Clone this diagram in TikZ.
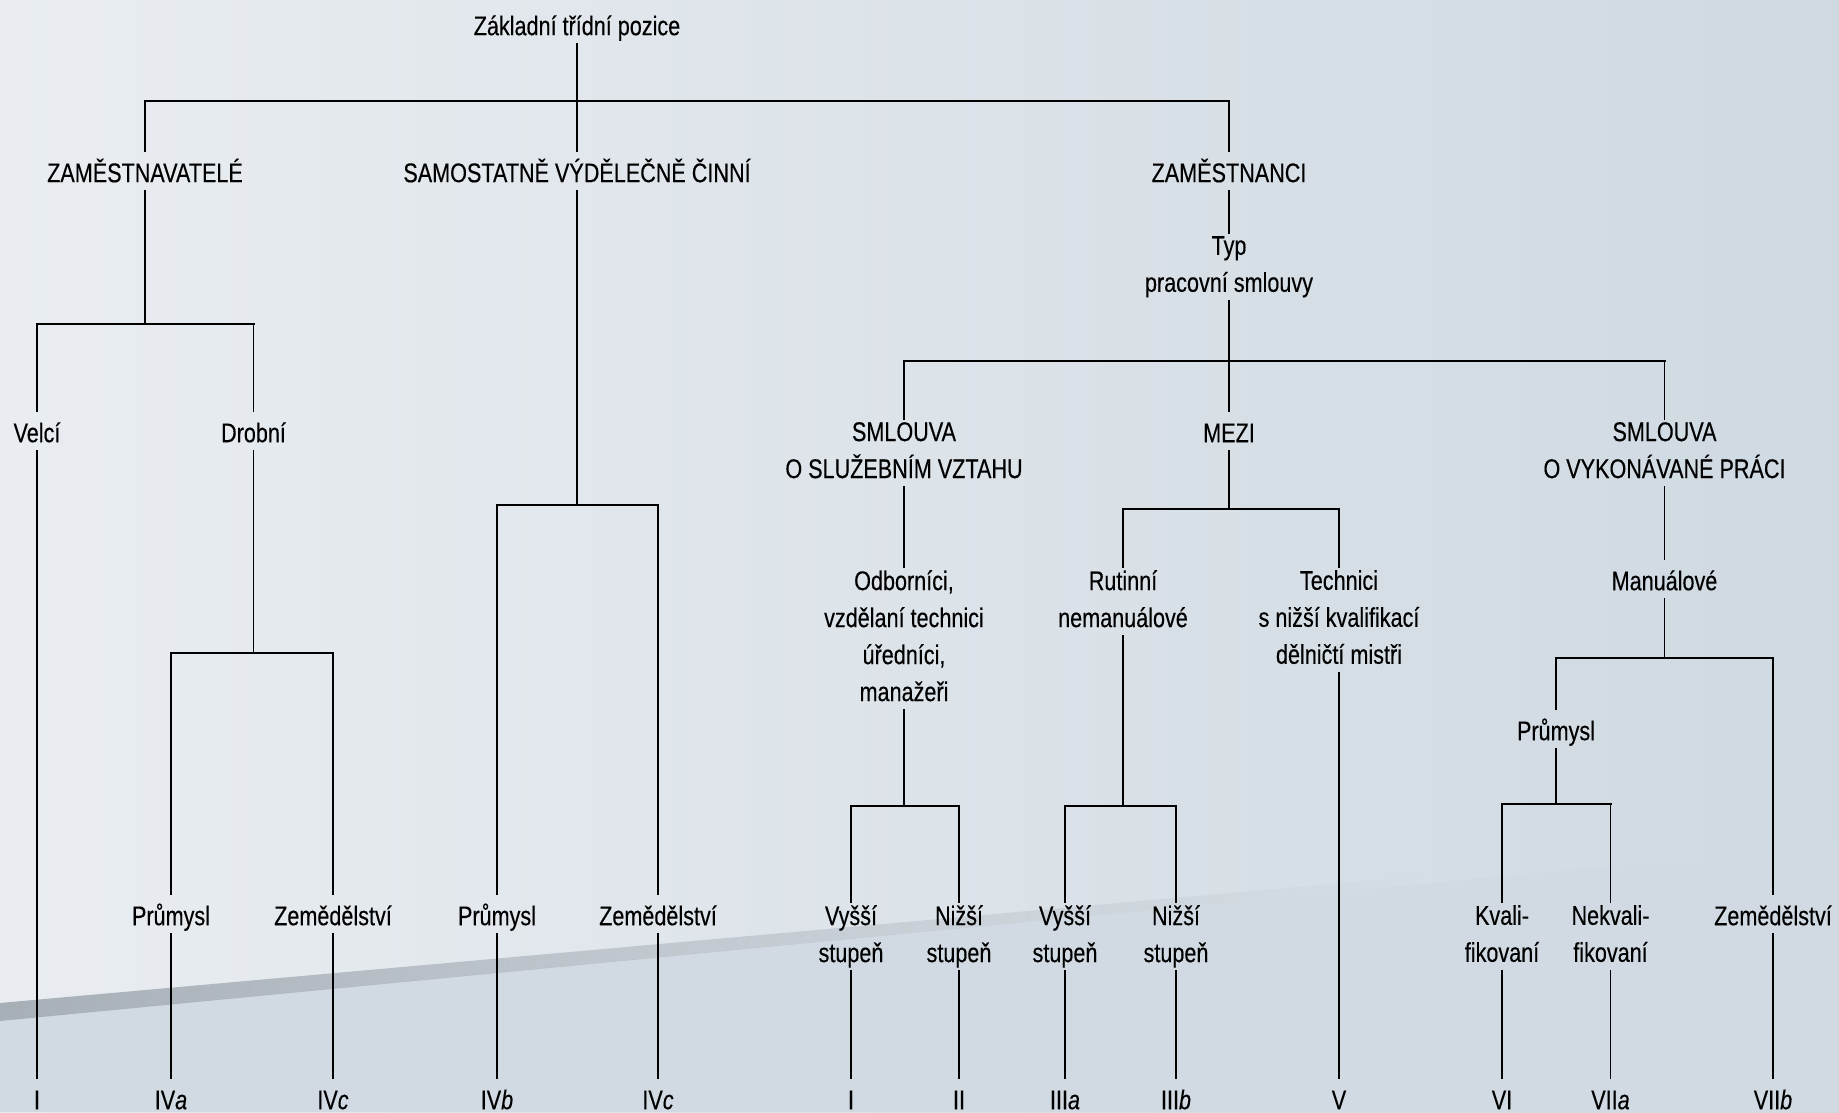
\documentclass[tikz,border=0pt]{standalone}
\usepackage{fontspec}
\usetikzlibrary{fadings}
\setmainfont{Liberation Sans}[FakeStretch=0.80, FakeBold=0.3]
\definecolor{bgL}{HTML}{E9EDF1}
\definecolor{bgR}{HTML}{CFD9E1}
\definecolor{lowc}{HTML}{D1DAE2}
\definecolor{bandc}{HTML}{A7AFB7}
\newcommand\fs{\fontsize{27pt}{37pt}\selectfont}
\newcommand\ms{\rule[-6pt]{0pt}{34pt}}
\newcommand\forkat[3]{%
  \draw[barl] (#2.north |- #1) -- (#3.north |- #1);
  \draw[conn] (#2.north |- #1) -- (#2.north);
  \draw[conn] (#3.north |- #1) -- (#3.north);}
\tikzfading[name=bandfade, left color=transparent!0, middle color=transparent!20, right color=transparent!100]
\begin{document}
\begin{tikzpicture}[x=1pt,y=-1pt,
  lab/.style={anchor=north, align=center, inner xsep=2pt, inner ysep=2pt,
    font=\fs, text=black, execute at begin node=\ms, execute at end node=\ms},
  mlab/.style={lab, yshift=-8pt},
  conn/.style={line width=1.9pt, draw=black},
  barl/.style={line width=2.4pt, draw=black, line cap=rect}]
\useasboundingbox (0,0) rectangle (1839,1112);
% background
\fill[left color=bgL, right color=bgR] (0,0) rectangle (1839,1112);
\fill[lowc] (0,1020) -- (1839,844) -- (1839,1112) -- (0,1112) -- cycle;
\fill[bandc, path fading=bandfade]
  (0,1003) -- (1420,876) -- (1420,884) -- (0,1021) -- cycle;
% nodes
\node[lab] (root) at (577,5) {Základní třídní pozice};
\node[lab] (zam) at (145,152) {ZAMĚSTNAVATELÉ};
\node[lab] (svc) at (577,152) {SAMOSTATNĚ VÝDĚLEČNĚ ČINNÍ};
\node[lab] (zct) at (1229,152) {ZAMĚSTNANCI};
\node[mlab] (typ) at (1229,226) {Typ\\pracovní smlouvy};
\node[lab] (velci) at (37,412) {Velcí};
\node[lab] (drobni) at (253.5,412) {Drobní};
\node[mlab] (sl1) at (904,412) {SMLOUVA\\O SLUŽEBNÍM VZTAHU};
\node[lab] (mezi) at (1229,412) {MEZI};
\node[mlab] (sl2) at (1664.5,412) {SMLOUVA\\O VYKONÁVANÉ PRÁCI};
\node[mlab] (odb) at (904,560) {Odborníci,\\vzdělaní technici\\úředníci,\\manažeři};
\node[mlab] (rut) at (1123,560) {Rutinní\\nemanuálové};
\node[mlab] (tech) at (1339,560) {Technici\\s nižší kvalifikací\\dělničtí mistři};
\node[lab] (man) at (1664.5,560) {Manuálové};
\node[lab] (prum3) at (1556,710) {Průmysl};
\node[lab] (prum1) at (171,895) {Průmysl};
\node[lab] (zem1) at (333,895) {Zemědělství};
\node[lab] (prum2) at (497,895) {Průmysl};
\node[lab] (zem2) at (658,895) {Zemědělství};
\node[mlab] (vys1) at (851,895) {Vyšší\\stupeň};
\node[mlab] (niz1) at (959,895) {Nižší\\stupeň};
\node[mlab] (vys2) at (1065,895) {Vyšší\\stupeň};
\node[mlab] (niz2) at (1176,895) {Nižší\\stupeň};
\node[mlab] (kval) at (1502,895) {Kvali-\\fikovaní};
\node[mlab] (nekv) at (1610.5,895) {Nekvali-\\fikovaní};
\node[lab] (zem3) at (1773,895) {Zemědělství};
\node[lab] (r1) at (37,1079) {I};
\node[lab] (r2) at (171,1079) {IV\textit{a}};
\node[lab] (r3) at (333,1079) {IV\textit{c}};
\node[lab] (r4) at (497,1079) {IV\textit{b}};
\node[lab] (r5) at (658,1079) {IV\textit{c}};
\node[lab] (r6) at (851,1079) {I};
\node[lab] (r7) at (959,1079) {II};
\node[lab] (r8) at (1065,1079) {III\textit{a}};
\node[lab] (r9) at (1176,1079) {III\textit{b}};
\node[lab] (r10) at (1339,1079) {V};
\node[lab] (r11) at (1502,1079) {VI};
\node[lab] (r12) at (1610.5,1079) {VII\textit{a}};
\node[lab] (r13) at (1773,1079) {VII\textit{b}};
% bar coordinates
\coordinate (bT) at (577,101);
\coordinate (bZ) at (145,324);
\coordinate (bD) at (253.5,653);
\coordinate (bS) at (577,505);
\coordinate (bE) at (1229,361);
\coordinate (bO) at (904,806);
\coordinate (bM) at (1229,509);
\coordinate (bR) at (1123,806);
\coordinate (bV) at (1664.5,658);
\coordinate (bP) at (1556,804);
% connectors
\draw[conn] (root.south) -- (svc.north);
\forkat{bT}{zam}{zct}
\draw[conn] (zam.south) -- (bZ);
\forkat{bZ}{velci}{drobni}
\draw[conn] (velci.south) -- (r1.north);
\draw[conn] (drobni.south) -- (bD);
\forkat{bD}{prum1}{zem1}
\draw[conn] (prum1.south) -- (r2.north);
\draw[conn] (zem1.south) -- (r3.north);
\draw[conn] (svc.south) -- (bS);
\forkat{bS}{prum2}{zem2}
\draw[conn] (prum2.south) -- (r4.north);
\draw[conn] (zem2.south) -- (r5.north);
\draw[conn] (zct.south) -- (typ.north);
\draw[conn] (typ.south) -- (bE);
\forkat{bE}{sl1}{sl2}
\draw[conn] (bE) -- (mezi.north);
\draw[conn] (sl1.south) -- (odb.north);
\draw[conn] (odb.south) -- (bO);
\forkat{bO}{vys1}{niz1}
\draw[conn] (vys1.south) -- (r6.north);
\draw[conn] (niz1.south) -- (r7.north);
\draw[conn] (mezi.south) -- (bM);
\forkat{bM}{rut}{tech}
\draw[conn] (rut.south) -- (bR);
\forkat{bR}{vys2}{niz2}
\draw[conn] (vys2.south) -- (r8.north);
\draw[conn] (niz2.south) -- (r9.north);
\draw[conn] (tech.south) -- (r10.north);
\draw[conn] (sl2.south) -- (man.north);
\draw[conn] (man.south) -- (bV);
\forkat{bV}{prum3}{zem3}
\draw[conn] (prum3.south) -- (bP);
\forkat{bP}{kval}{nekv}
\draw[conn] (kval.south) -- (r11.north);
\draw[conn] (nekv.south) -- (r12.north);
\draw[conn] (zem3.south) -- (r13.north);
\end{tikzpicture}
\end{document}
